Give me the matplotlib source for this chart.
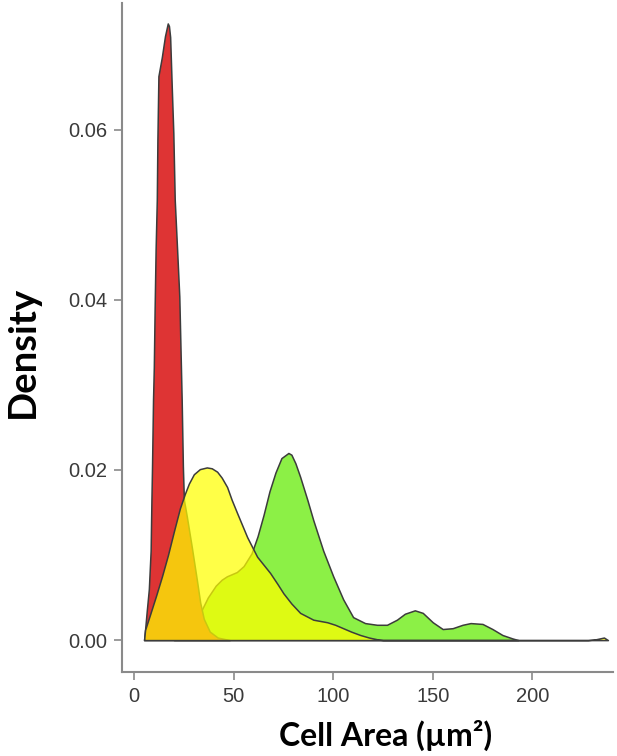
import matplotlib
matplotlib.use('Agg')
import matplotlib.pyplot as plt

# Valores (area celular en um^2, densidad)
area_roja = [5, 5.5, 6.3, 7.4, 8.3, 8.7, 9.0, 9.5, 9.9, 10.3, 10.8, 11.4, 11.7, 12.2,
             13.9, 15.5, 16.9, 17.5, 18.1, 18.9, 19.7, 20.4, 21.6, 22.7, 23.9, 24.5,
             25.0, 26.5, 29, 31.5, 33.2, 35, 38, 42, 48]
dens_roja = [0, 0.0012, 0.0033, 0.006, 0.0105, 0.0165, 0.0204, 0.0282, 0.0321, 0.0388,
             0.0459, 0.0518, 0.0588, 0.0663, 0.0685, 0.0710, 0.0725, 0.0722, 0.0709,
             0.0651, 0.0596, 0.0518, 0.0459, 0.0404, 0.0282, 0.0204, 0.0165, 0.0145,
             0.0109, 0.0071, 0.0044, 0.0025, 0.0010, 0.0003, 0.0]

area_amarilla = [5, 5.5, 8, 11, 14, 17, 20, 23, 25.5, 27.5, 30, 33, 36.5, 39, 41.7, 44,
                 46.7, 49, 51.8, 56.8, 61.8, 68.3, 72, 75, 79, 83.4, 90, 97, 101, 105,
                 109, 113.6, 118, 122, 125, 228, 232, 236, 238]
dens_amarilla = [0, 0.0012, 0.0030, 0.0052, 0.0075, 0.0100, 0.0128, 0.0155, 0.0172,
                 0.0184, 0.0195, 0.0201, 0.0203, 0.0202, 0.0198, 0.0191, 0.0180, 0.0165,
                 0.0149, 0.0121, 0.0098, 0.0079, 0.0066, 0.0055, 0.0043, 0.0032, 0.0024,
                 0.0021, 0.0018, 0.0014, 0.0010, 0.0006, 0.0003, 0.0001, 0.0, 0.0,
                 0.0001, 0.0003, 0.0]

area_verde = [20, 23, 28, 33, 37, 41, 44, 46.6, 51.6, 55, 59, 62, 65, 68, 71, 74, 77.5,
              79, 81, 83.4, 87, 90, 95, 100, 105, 110, 116, 122, 127, 132, 136, 141,
              145, 150, 155, 160, 165, 169, 175, 180, 185, 190, 193]
dens_verde = [0, 0.0002, 0.0008, 0.0031, 0.0050, 0.0064, 0.0071, 0.0075, 0.0080, 0.0087,
              0.0102, 0.0122, 0.0147, 0.0175, 0.0197, 0.0214, 0.0220, 0.0218, 0.0208,
              0.0192, 0.0165, 0.0141, 0.0105, 0.0075, 0.0048, 0.0027, 0.0020, 0.0018,
              0.0018, 0.0024, 0.0031, 0.0035, 0.0032, 0.0021, 0.0013, 0.0014, 0.0018,
              0.0020, 0.0019, 0.0013, 0.0006, 0.0002, 0.0]

ticks_x = [0, 50, 100, 150, 200]
ticks_y = [0.00, 0.02, 0.04, 0.06]

borde = '#3c3c3c'
gris = '#8a8a8a'

fig = plt.figure(figsize=(6.17, 7.56), dpi=100)
ax = fig.add_axes([0.198, 0.111, 0.796, 0.885])

ax.fill_between(area_verde, dens_verde, 0, facecolor='#8cf046', edgecolor=borde, linewidth=1.1, zorder=2)
ax.fill_between(area_roja, dens_roja, 0, facecolor='#de3434', edgecolor=borde, linewidth=1.1, zorder=3)
ax.fill_between(area_amarilla, dens_amarilla, 0, facecolor=(1.0, 1.0, 0.0, 0.72), edgecolor=borde,
                linewidth=1.1, zorder=4)

ax.set_xlim(-6, 240.7)
ax.set_ylim(-0.00376, 0.0749)
ax.set_xticks(ticks_x)
ax.set_xticklabels([str(t) for t in ticks_x])
ax.set_yticks(ticks_y)
ax.set_yticklabels(['%.2f' % t for t in ticks_y])

for lado in ['top', 'right']:
    ax.spines[lado].set_visible(False)
for lado in ['left', 'bottom']:
    ax.spines[lado].set_color(gris)
    ax.spines[lado].set_linewidth(1.5)

ax.tick_params(axis='both', direction='out', length=5.5, width=1.2, color=gris,
               labelsize=14.5, labelcolor='#3a3a3a', pad=5)
for lab in ax.get_xticklabels() + ax.get_yticklabels():
    lab.set_family('Liberation Sans')

fig.text(386 / 617, 1 - 735 / 756, 'Cell Area (\u00b5m\u00b2)', ha='center', va='center',
         fontsize=23, fontweight='bold', family='Lato')
fig.text(23 / 617, 1 - 352 / 756, 'Density', ha='center', va='center', rotation=90,
         fontsize=27.5, fontweight='bold', family='Lato')

fig.savefig('out.png', dpi=100)
